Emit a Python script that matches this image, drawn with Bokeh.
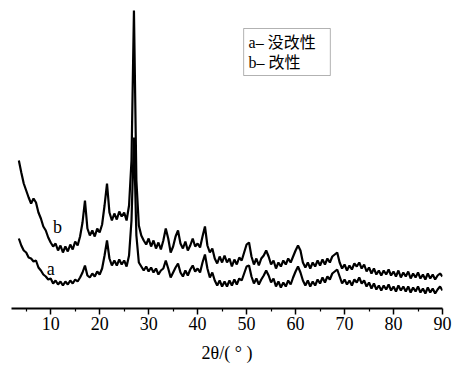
from bokeh.plotting import figure
from bokeh.models import Range1d, FixedTicker, Label, BoxAnnotation
from bokeh.embed import file_html
from bokeh.resources import INLINE

two_theta = [
    3.5, 4.0, 4.5, 5.0, 5.5, 6.0, 6.5, 7.0, 7.5, 8.0,
    8.5, 9.0, 9.5, 10.0, 10.5, 11.0, 11.5, 12.0, 12.5, 13.0,
    13.5, 14.0, 14.5, 15.0, 15.5, 16.0, 16.5, 17.0, 17.5, 18.0,
    18.5, 19.0, 19.5, 20.0, 20.5, 21.0, 21.5, 22.0, 22.5, 23.0,
    23.5, 24.0, 24.5, 25.0, 25.5, 26.0, 26.5, 27.0, 27.5, 28.0,
    28.5, 29.0, 29.5, 30.0, 30.5, 31.0, 31.5, 32.0, 32.5, 33.0,
    33.5, 34.0, 34.5, 35.0, 35.5, 36.0, 36.5, 37.0, 37.5, 38.0,
    38.5, 39.0, 39.5, 40.0, 40.5, 41.0, 41.5, 42.0, 42.5, 43.0,
    43.5, 44.0, 44.5, 45.0, 45.5, 46.0, 46.5, 47.0, 47.5, 48.0,
    48.5, 49.0, 49.5, 50.0, 50.5, 51.0, 51.5, 52.0, 52.5, 53.0,
    53.5, 54.0, 54.5, 55.0, 55.5, 56.0, 56.5, 57.0, 57.5, 58.0,
    58.5, 59.0, 59.5, 60.0, 60.5, 61.0, 61.5, 62.0, 62.5, 63.0,
    63.5, 64.0, 64.5, 65.0, 65.5, 66.0, 66.5, 67.0, 67.5, 68.0,
    68.5, 69.0, 69.5, 70.0, 70.5, 71.0, 71.5, 72.0, 72.5, 73.0,
    73.5, 74.0, 74.5, 75.0, 75.5, 76.0, 76.5, 77.0, 77.5, 78.0,
    78.5, 79.0, 79.5, 80.0, 80.5, 81.0, 81.5, 82.0, 82.5, 83.0,
    83.5, 84.0, 84.5, 85.0, 85.5, 86.0, 86.5, 87.0, 87.5, 88.0,
    88.5, 89.0, 89.5, 90.0,
]

# curve b (modified)
intensity_b = [
    148, 136, 125, 118, 111, 105, 110, 106, 96, 90,
    82, 78, 71, 66, 62, 65, 58, 63, 56, 62,
    57, 64, 59, 67, 63, 72, 86, 108, 80, 73,
    78, 72, 80, 76, 84, 103, 125, 96, 88, 95,
    89, 97, 92, 96, 88, 103, 148, 298, 128, 83,
    73, 68, 64, 70, 62, 68, 60, 66, 59, 68,
    80, 70, 56, 62, 72, 78, 65, 60, 67, 58,
    63, 70, 62, 65, 61, 72, 82, 63, 56, 60,
    50, 45, 52, 46, 53, 46, 50, 42, 49, 44,
    51, 48, 56, 64, 66, 52, 44, 50, 43, 50,
    53, 58, 52, 44, 48, 40, 46, 42, 48, 44,
    50, 46, 52, 58, 63, 58, 46, 41, 46, 40,
    46, 42, 48, 43, 49, 44, 50, 46, 52, 54,
    56, 46, 40, 44, 38, 43, 39, 45, 42, 46,
    40, 44, 37, 41, 35, 40, 34, 38, 33, 38,
    34, 39, 33, 37, 32, 38, 31, 36, 32, 37,
    30, 35, 31, 36, 30, 34, 29, 35, 30, 34,
    29, 33, 35, 32,
]

# curve a (unmodified)
intensity_a = [
    70, 63, 58, 56, 51, 50, 47, 48, 41, 38,
    34, 32, 29, 30, 25, 28, 24, 27, 23, 27,
    24, 28, 25, 29, 27, 31, 36, 43, 33, 31,
    35, 32, 37, 34, 40, 53, 68, 50, 43, 48,
    43, 49, 44, 48, 42, 53, 88, 171, 73, 46,
    42, 38, 42, 37, 41, 36, 40, 34, 38, 40,
    48, 40, 31, 36, 41, 45, 36, 32, 38, 33,
    39, 43, 37, 40, 36, 46, 54, 40, 31, 36,
    28, 23, 28, 22, 27, 22, 28, 23, 29, 24,
    30, 28, 35, 42, 43, 32, 25, 30, 24, 29,
    33, 38, 33, 26, 30, 22, 27, 21, 26, 22,
    28, 24, 31, 37, 42, 36, 28, 23, 28, 22,
    27, 23, 29, 25, 31, 26, 32, 29, 35, 37,
    39, 32, 25, 29, 24, 28, 23, 29, 26, 31,
    25, 28, 22, 26, 20, 25, 19, 23, 18, 23,
    19, 24, 18, 22, 17, 23, 18, 22, 17, 22,
    16, 21, 17, 22, 16, 20, 15, 21, 16, 20,
    15, 19, 22, 18,
]

major_ticks = [10, 20, 30, 40, 50, 60, 70, 80, 90]
minor_ticks = [5, 15, 25, 35, 45, 55, 65, 75, 85]
x_title = "2θ/( ° )"

SERIF = "'Liberation Serif', 'Noto Sans CJK SC'"

p = figure(width=453, height=365, output_backend="svg", toolbar_location=None,
           x_range=Range1d(2, 90), y_range=Range1d(0, 303),
           min_border_left=11, min_border_right=11,
           min_border_top=5, min_border_bottom=10)
p.outline_line_color = None
p.grid.visible = False
p.yaxis.visible = False
p.background_fill_color = "white"

p.line(two_theta, intensity_b, line_color="black", line_width=2.2)
p.line(two_theta, intensity_a, line_color="black", line_width=2.2)

ax = p.xaxis[0]
ax.ticker = FixedTicker(ticks=major_ticks, minor_ticks=minor_ticks)
ax.axis_line_width = 1.8
ax.axis_line_color = "black"
ax.major_tick_line_color = "black"
ax.major_tick_line_width = 1.5
ax.major_tick_out = 6
ax.major_tick_in = 0
ax.minor_tick_line_color = "black"
ax.minor_tick_line_width = 1.2
ax.minor_tick_out = 3
ax.minor_tick_in = 0
ax.major_label_text_font = "Liberation Serif"
ax.major_label_text_font_size = "18px"
ax.major_label_text_color = "black"
ax.major_label_standoff = 2
ax.axis_label = x_title
ax.axis_label_text_font = "Liberation Serif"
ax.axis_label_text_font_style = "normal"
ax.axis_label_text_font_size = "18px"
ax.axis_label_text_color = "black"
ax.axis_label_standoff = 10

def lab(x, y, t, size="18px", align="center", style="normal", baseline="middle"):
    p.add_layout(Label(x=x, y=y, text=t, text_font=SERIF, text_font_size=size,
                       text_align=align, text_baseline=baseline,
                       text_font_style=style, text_color="black"))

# curve labels
lab(11.4, 82, "b")
lab(10.0, 40, "a")

# legend box
p.add_layout(BoxAnnotation(left=49.4, right=67.1, bottom=233, top=280,
                           fill_alpha=0, line_color="black", line_width=1))
lab(50.4, 266, "a– 没改性", size="16px", align="left")
lab(50.4, 246, "b– 改性", size="16px", align="left")

open("out.html", "w").write(file_html(p, INLINE))
